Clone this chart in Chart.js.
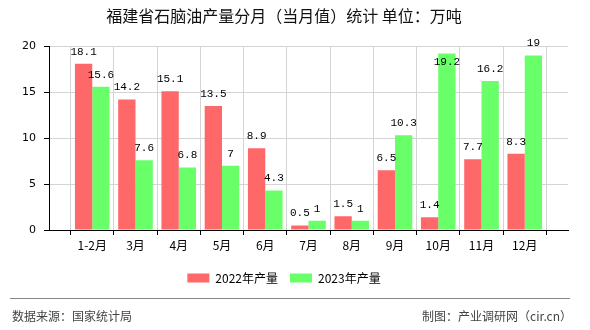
<!DOCTYPE html>
<html>
<head>
<meta charset="utf-8">
<script src="https://cdn.jsdelivr.net/npm/chart.js@4"></script>
<style>
  html, body { margin: 0; padding: 0; background: #fff; }
  #chart { display: block; }
</style>
</head>
<body>
<canvas id="chart" width="590" height="330"></canvas>
<script>
// 福建省石脑油月度产量（万吨）
const months = ['1-2月', '3月', '4月', '5月', '6月', '7月', '8月', '9月', '10月', '11月', '12月'];
const output2022 = [18.1, 14.2, 15.1, 13.5, 8.9, 0.5, 1.5, 6.5, 1.4, 7.7, 8.3];
const output2023 = [15.6, 7.6, 6.8, 7, 4.3, 1, 1, 10.3, 19.2, 16.2, 19];
const yTicks = [0, 5, 10, 15, 20];

const CJK = '"Noto Sans CJK SC", "Noto Sans", sans-serif';

// empty slot on each side so the axis runs half a group past the first and last month
const pad = arr => [null, ...arr, null];

// value labels above each bar
const barValues = {
  id: 'barValues',
  afterDatasetsDraw(chart){
    const ctx = chart.ctx;
    const top = chart.chartArea.top;
    ctx.save();
    ctx.font = '11px "Liberation Mono", monospace';
    ctx.fillStyle = '#000';
    ctx.textAlign = 'center';
    ctx.textBaseline = 'middle';
    chart.data.datasets.forEach((ds, i)=>{
      chart.getDatasetMeta(i).data.forEach((bar, j)=>{
        const v = ds.data[j];
        if (v == null) return;
        let y = bar.y - 12;
        if (y < top - 4) y = bar.y + 9;
        ctx.fillText(String(v), bar.x, y);
      });
    });
    ctx.restore();
  }
};

// source line and credits at the bottom
const footer = {
  id: 'footer',
  afterDraw(chart){
    const ctx = chart.ctx;
    ctx.save();
    ctx.strokeStyle = '#888';
    ctx.lineWidth = 1;
    ctx.beginPath();
    ctx.moveTo(10, 298.5);
    ctx.lineTo(570, 298.5);
    ctx.stroke();
    ctx.font = '12px ' + CJK;
    ctx.fillStyle = '#444';
    ctx.textBaseline = 'middle';
    ctx.textAlign = 'left';
    ctx.fillText('数据来源：国家统计局', 12, 316);
    ctx.textAlign = 'right';
    ctx.fillText('制图：产业调研网（cir.cn）', 572, 316);
    ctx.restore();
  }
};

new Chart(document.getElementById('chart'), {
  type: 'bar',
  data: {
    labels: ['', ...months, ''],
    datasets: [
      { label: '2022年产量', data: pad(output2022), backgroundColor: '#ff6868' },
      { label: '2023年产量', data: pad(output2023), backgroundColor: '#68ff68' }
    ]
  },
  options: {
    responsive: false,
    animation: false,
    devicePixelRatio: 1,
    layout: { padding: { left: 0, right: 22, top: 0, bottom: 36 } },
    categoryPercentage: 0.8,
    barPercentage: 1,
    plugins: {
      title: {
        display: true,
        text: '福建省石脑油产量分月（当月值）统计 单位：万吨',
        color: '#111',
        font: { family: CJK, size: 16, weight: 'normal' },
        padding: { top: 6, bottom: 21 }
      },
      legend: {
        position: 'bottom',
        labels: {
          color: '#000',
          font: { family: CJK, size: 12 },
          boxWidth: 22,
          boxHeight: 9,
          padding: 12
        }
      },
      tooltip: { enabled: false }
    },
    scales: {
      x: {
        offset: false,
        grid: { color: '#d4d4d4', tickColor: '#000', tickLength: 5 },
        border: { color: '#000' },
        ticks: {
          color: '#000',
          autoSkip: false,
          maxRotation: 0,
          padding: 3,
          font: { family: CJK, size: 12 }
        },
        afterFit(scale){ scale.height = 30; }
      },
      y: {
        min: yTicks[0],
        max: yTicks[yTicks.length - 1],
        grid: { color: '#d4d4d4', tickColor: '#000', tickLength: 5 },
        border: { color: '#000' },
        ticks: {
          stepSize: yTicks[1] - yTicks[0],
          color: '#000',
          padding: 8,
          font: { family: '"DejaVu Sans", sans-serif', size: 11 }
        },
        afterFit(scale){ scale.width = 49; }
      }
    }
  },
  plugins: [barValues, footer]
});
</script>
</body>
</html>
